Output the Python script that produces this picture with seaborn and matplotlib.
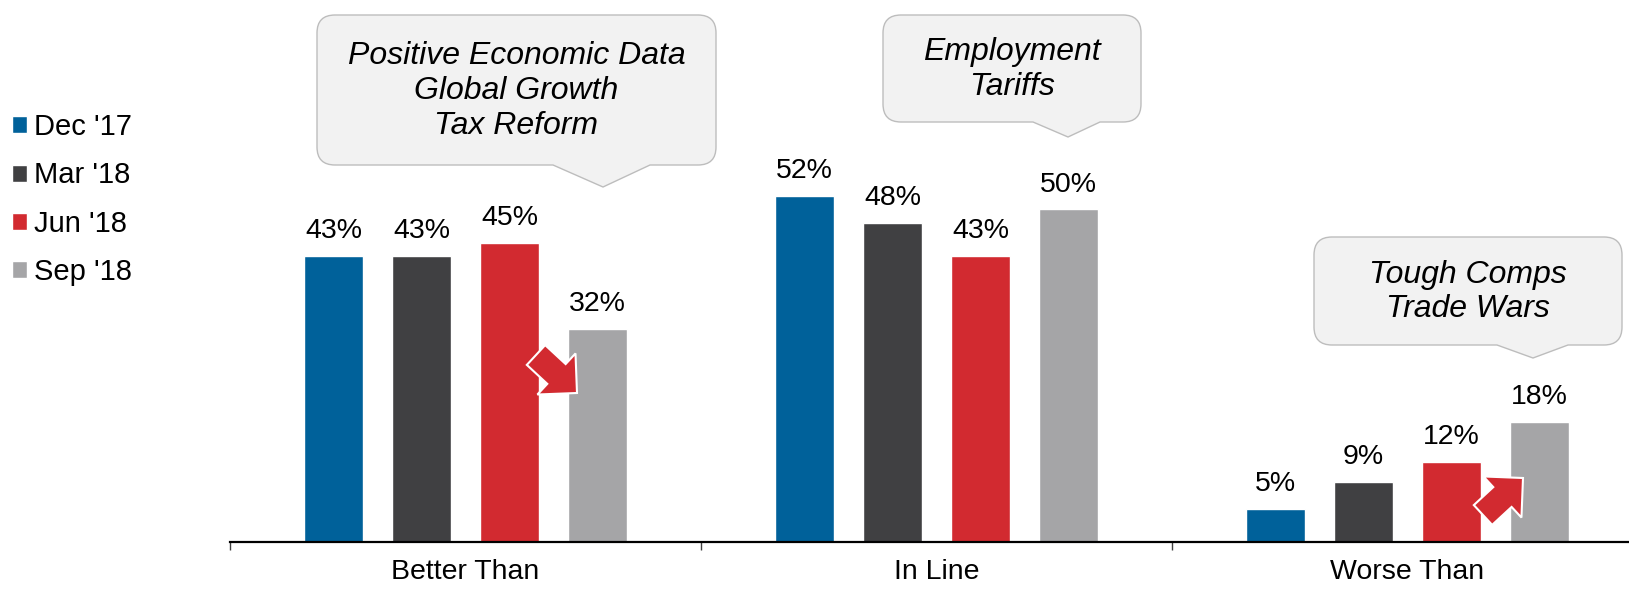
import numpy as np
import pandas as pd
import matplotlib
matplotlib.use('Agg')
import matplotlib.pyplot as plt
from matplotlib.path import Path
from matplotlib.patches import PathPatch, FancyArrow
import seaborn as sns

categories = ['Better Than', 'In Line', 'Worse Than']
periods = ["Dec '17", "Mar '18", "Jun '18", "Sep '18"]
dec17 = [43, 52, 5]
mar18 = [43, 48, 9]
jun18 = [45, 43, 12]
sep18 = [32, 50, 18]
colors = ['#00619a', '#404042', '#d22a30', '#a5a5a7']

callout_texts = ['Positive Economic Data\nGlobal Growth\nTax Reform',
                 'Employment\nTariffs',
                 'Tough Comps\nTrade Wars']

rows = []
for p, vals in zip(periods, [dec17, mar18, jun18, sep18]):
    for c, v in zip(categories, vals):
        rows.append({'Outlook': c, 'Period': p, 'Pct': v})
df = pd.DataFrame(rows)

sns.set_theme(style='white')
plt.rcParams['font.family'] = ['Liberation Sans', 'DejaVu Sans']

W, H = 1629, 589
fig = plt.figure(figsize=(W / 100, H / 100), dpi=100)
ax = fig.add_axes([230 / W, 47 / H, 1413 / W, 542 / H])

sns.barplot(data=df, x='Outlook', y='Pct', hue='Period', order=categories,
            hue_order=periods, palette=colors, width=0.748, gap=0.33,
            saturation=1, ax=ax, zorder=2)

for cont in ax.containers:
    ax.bar_label(cont, fmt='{:.0f}%', padding=8.5, fontsize=20.5, color='black')

ax.set_xlim(-0.5, 2.5)
ax.set_ylim(0, 81.5)
ax.set_xlabel('')
ax.set_ylabel('')
ax.set_yticks([])
for s in ['top', 'right', 'left']:
    ax.spines[s].set_visible(False)
ax.spines['bottom'].set_color('black')
ax.spines['bottom'].set_linewidth(1.6)
ax.tick_params(axis='x', which='major', length=0, pad=12.5, labelsize=20.5,
               labelcolor='black')
ax.set_xticks([-0.5, 0.5, 1.5, 2.5], minor=True)
ax.tick_params(axis='x', which='minor', length=6, width=1, color='#404040',
               bottom=True, direction='out')

sns.move_legend(ax, 'upper left', bbox_to_anchor=(12 / W, 1 - 113 / H),
                bbox_transform=fig.transFigure, frameon=False, title=None,
                fontsize=21, handlelength=0.52, handleheight=0.52,
                handletextpad=0.25, labelspacing=0.7, borderpad=0,
                borderaxespad=0)
for t in ax.get_legend().get_texts():
    t.set_color('black')

# helpers in pixel coords (origin top-left)
def px(x, y):
    return x / 100, (H - y) / 100

def callout(l, t, r, b, p1, p2, tipx, tipy, rad=18):
    pts = [(l + rad, t), (r - rad, t), (r, t), (r, t + rad), (r, b - rad),
           (r, b), (r - rad, b), (p2, b), (tipx, tipy), (p1, b),
           (l + rad, b), (l, b), (l, b - rad), (l, t + rad), (l, t),
           (l + rad, t), (l + rad, t)]
    codes = [Path.MOVETO, Path.LINETO, Path.CURVE3, Path.CURVE3, Path.LINETO,
             Path.CURVE3, Path.CURVE3, Path.LINETO, Path.LINETO, Path.LINETO,
             Path.LINETO, Path.CURVE3, Path.CURVE3, Path.LINETO, Path.CURVE3,
             Path.CURVE3, Path.CLOSEPOLY]
    verts = [px(x, y) for x, y in pts]
    patch = PathPatch(Path(verts, codes), facecolor='#f2f2f2',
                      edgecolor='#bdbdbd', linewidth=1,
                      transform=fig.dpi_scale_trans)
    fig.add_artist(patch)

boxes = [
    (317, 15, 716, 165, 553, 650, 603, 187),
    (883, 15, 1141, 122, 1033, 1100, 1068, 137),
    (1314, 237, 1622, 345, 1497, 1568, 1533, 358),
]
for (l, t, r, b, p1, p2, tx, ty), txt in zip(boxes, callout_texts):
    callout(l, t, r, b, p1, p2, tx, ty)
    x, y = px((l + r) / 2, (t + b) / 2 + 1)
    fig.text(x, y, txt, transform=fig.dpi_scale_trans, ha='center',
             va='center', fontsize=23, style='italic', color='black',
             linespacing=1.2)

# red block arrows
for (x0, y0), (x1, y1) in [((536, 355), (577, 393)), ((1483, 515), (1523, 478))]:
    ax0, ay0 = px(x0, y0)
    ax1, ay1 = px(x1, y1)
    arr = FancyArrow(ax0, ay0, ax1 - ax0, ay1 - ay0, width=0.27,
                     head_width=0.56, head_length=0.28,
                     length_includes_head=True, facecolor='#d22a30',
                     edgecolor='white', linewidth=1.5,
                     transform=fig.dpi_scale_trans)
    fig.add_artist(arr)

fig.savefig('out.png', dpi=100)
